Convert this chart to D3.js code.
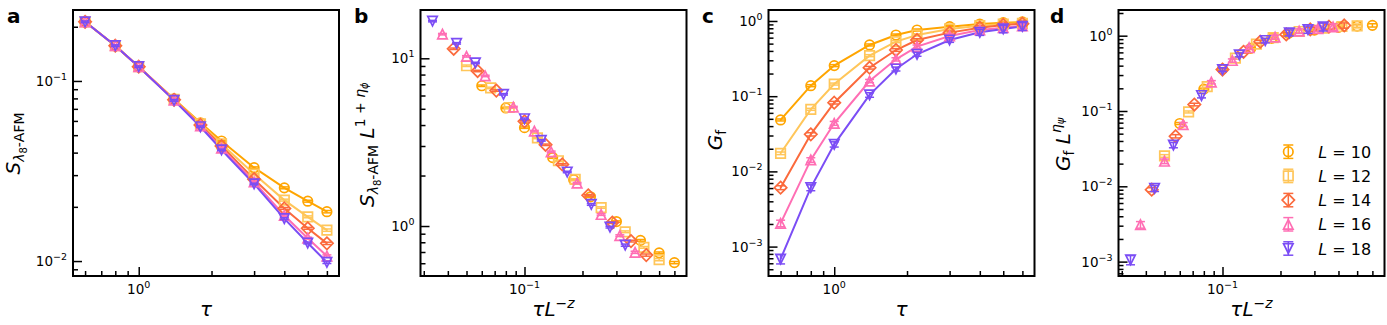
<!DOCTYPE html>
<html><head><meta charset="utf-8">
<script src="https://cdn.jsdelivr.net/npm/d3@7"></script>
<style>body{margin:0;background:#fff} svg{display:block}</style>
</head><body><svg id="fig" width="1387" height="325"></svg>
<script>
// ---------------- data ----------------
const tau = [0.6, 0.8, 1.0, 1.4, 1.8, 2.2, 3, 4, 5, 6];
const Ls = [10, 12, 14, 16, 18];
const legendLabels = ["10", "12", "14", "16", "18"];
// panel a: S_{lambda8-AFM}(tau), one row per L
const S_afm = [
  [0.213, 0.157, 0.120, 0.0795, 0.0586, 0.0464, 0.0330, 0.0255, 0.0215, 0.0188],
  [0.213, 0.157, 0.120, 0.0790, 0.0578, 0.0447, 0.0304, 0.0218, 0.0176, 0.01485],
  [0.213, 0.157, 0.120, 0.0786, 0.0570, 0.0435, 0.0285, 0.0196, 0.0152, 0.01254],
  [0.213, 0.157, 0.120, 0.0783, 0.0563, 0.0424, 0.0275, 0.0179, 0.0134, 0.01066],
  [0.213, 0.157, 0.120, 0.0780, 0.0557, 0.0414, 0.0268, 0.0172, 0.0126, 0.00984]
];
const relErrA = [0.01, 0.01, 0.01, 0.01, 0.01, 0.01, 0.01, 0.012, 0.012, 0.015];
// panels b, d: scaled abscissa tau L^{-z}
const xScaled = [
  [0.0600, 0.0800, 0.1000, 0.1400, 0.1800, 0.2200, 0.3000, 0.4000, 0.5000, 0.6000],
  [0.0500, 0.0667, 0.0833, 0.1167, 0.1500, 0.1833, 0.2500, 0.3333, 0.4167, 0.5000],
  [0.0429, 0.0571, 0.0714, 0.1000, 0.1286, 0.1571, 0.2143, 0.2857, 0.3571, 0.4286],
  [0.0375, 0.0500, 0.0625, 0.0875, 0.1125, 0.1375, 0.1875, 0.2500, 0.3125, 0.3750],
  [0.0333, 0.0444, 0.0556, 0.0778, 0.1000, 0.1222, 0.1667, 0.2222, 0.2778, 0.3333]
];
// panel b: S L^{1+eta_phi}
const S_scaled = [
  [6.86, 5.06, 3.86, 2.56, 1.887, 1.494, 1.063, 0.821, 0.692, 0.605],
  [9.03, 6.66, 5.09, 3.35, 2.45, 1.895, 1.289, 0.924, 0.746, 0.630],
  [11.40, 8.40, 6.42, 4.21, 3.05, 2.33, 1.525, 1.049, 0.813, 0.671],
  [13.93, 10.27, 7.85, 5.12, 3.68, 2.77, 1.80, 1.171, 0.876, 0.697],
  [16.66, 12.28, 9.38, 6.10, 4.36, 3.24, 2.10, 1.345, 0.985, 0.769]
];
// panel c: G_f(tau)
const Gf = [
  [0.0483, 0.138, 0.255, 0.480, 0.651, 0.759, 0.841, 0.912, 0.95, 0.97],
  [0.0174, 0.0669, 0.145, 0.346, 0.531, 0.651, 0.783, 0.866, 0.912, 0.93],
  [0.00608, 0.0311, 0.082, 0.239, 0.411, 0.559, 0.70, 0.815, 0.885, 0.92],
  [0.00204, 0.0142, 0.0436, 0.159, 0.309, 0.456, 0.632, 0.759, 0.815, 0.86],
  [0.000684, 0.00608, 0.0229, 0.104, 0.230, 0.361, 0.559, 0.707, 0.783, 0.85]
];
const relErrC = [
  [0.03, 0.03, 0.03, 0.03, 0.03, 0.03, 0.03, 0.04, 0.04, 0.05],
  [0.04, 0.03, 0.03, 0.03, 0.03, 0.03, 0.04, 0.04, 0.05, 0.06],
  [0.06, 0.05, 0.04, 0.04, 0.04, 0.04, 0.05, 0.06, 0.07, 0.08],
  [0.10, 0.07, 0.06, 0.05, 0.05, 0.05, 0.06, 0.07, 0.09, 0.10],
  [0.14, 0.09, 0.08, 0.07, 0.06, 0.06, 0.07, 0.09, 0.11, 0.12]
];
// panel d: G_f L^{eta_psi}
const G_scaled = [
  [0.0682, 0.195, 0.360, 0.678, 0.920, 1.072, 1.188, 1.289, 1.342, 1.371],
  [0.0253, 0.0971, 0.2105, 0.502, 0.771, 0.945, 1.137, 1.257, 1.324, 1.350],
  [0.00903, 0.0462, 0.1219, 0.355, 0.611, 0.831, 1.040, 1.211, 1.315, 1.367],
  [0.00309, 0.0215, 0.0661, 0.241, 0.468, 0.691, 0.958, 1.151, 1.236, 1.304],
  [0.001055, 0.00938, 0.0353, 0.1605, 0.355, 0.557, 0.863, 1.091, 1.208, 1.312]
];
const colors = ["#ffa500", "#ffc65a", "#fb6a3c", "#ff6eb4", "#7b4df5"];
const markers = ["circle", "square", "diamond", "triUp", "triDown"];

// ---------------- layout ----------------
const svg = d3.select("#fig");
const TOP = 10, PW = 266, PH = 266;
const FONT = "DejaVu Sans";
const LABSIZE = 20;

function markerPath(kind, ms) {
  const r = ms / 2;
  switch (kind) {
    case "circle": { const p = d3.path(); p.arc(0, 0, r, 0, 2 * Math.PI); p.closePath(); return p.toString(); }
    case "square": return `M${-r},${-r}H${r}V${r}H${-r}Z`;
    case "diamond": { const d = r * Math.SQRT2 * 0.92; return `M0,${-d}L${d},0L0,${d}L${-d},0Z`; }
    case "triUp": return `M0,${-r}L${r},${r}L${-r},${r}Z`;
    case "triDown": return `M0,${r}L${r},${-r}L${-r},${-r}Z`;
  }
}

function rich(sel, segs, size) {
  let prev = 0;
  segs.forEach(s => {
    const off = s.off || 0;
    sel.append("tspan")
      .attr("dy", ((off - prev) * size).toFixed(2))
      .attr("font-size", (size * (s.fs || 1)).toFixed(2))
      .attr("font-style", s.it ? "italic" : "normal")
      .text(s.t);
    prev = off;
  });
}

function decadeTicks(domain) {
  const lo = Math.log10(domain[0]), hi = Math.log10(domain[1]);
  const maj = [], min = [];
  for (let k = Math.floor(lo); k <= Math.ceil(hi); k++) {
    for (let m = 1; m <= 9; m++) {
      const v = m * Math.pow(10, k);
      const lv = Math.log10(v);
      if (lv < lo - 1e-9 || lv > hi + 1e-9) continue;
      (m === 1 ? maj : min).push(v);
    }
  }
  return {maj, min};
}

function supExp(v) {
  const e = Math.round(Math.log10(v));
  return e < 0 ? "\u2212" + (-e) : String(e);
}

function panel(cfg) {
  const g = svg.append("g").attr("transform", `translate(${cfg.left},${TOP})`);
  const x = d3.scaleLog().domain(cfg.xd).range([0, PW]);
  const y = d3.scaleLog().domain(cfg.yd).range([PH, 0]);
  const tx = decadeTicks(cfg.xd), ty = decadeTicks(cfg.yd);

  const axes = g.append("g").attr("class", "axes");
  const addAxis = (gen, tr) => {
    const a = axes.append("g").attr("transform", tr).call(gen);
    a.select(".domain").remove();
    a.selectAll("line").attr("stroke", "#000").attr("stroke-width", 1.5);
    a.selectAll("text").remove();
  };
  addAxis(d3.axisBottom(x).tickValues(tx.maj).tickSize(-9).tickFormat(""), `translate(0,${PH})`);
  addAxis(d3.axisBottom(x).tickValues(tx.min).tickSize(-5).tickFormat(""), `translate(0,${PH})`);
  addAxis(d3.axisLeft(y).tickValues(ty.maj).tickSize(-9).tickFormat(""), `translate(0,0)`);
  addAxis(d3.axisLeft(y).tickValues(ty.min).tickSize(-5).tickFormat(""), `translate(0,0)`);

  tx.maj.forEach(v => {
    const t = g.append("text").attr("x", x(v)).attr("y", PH + 18)
      .attr("text-anchor", "middle").attr("font-family", FONT).attr("font-size", 13.5).attr("fill", "#000");
    t.append("tspan").text("10");
    t.append("tspan").attr("dy", -6).attr("font-size", 9.5).text(supExp(v));
  });
  ty.maj.forEach(v => {
    const t = g.append("text").attr("x", -6).attr("y", y(v) + 5)
      .attr("text-anchor", "end").attr("font-family", FONT).attr("font-size", 13.5).attr("fill", "#000");
    t.append("tspan").text("10");
    t.append("tspan").attr("dy", -6).attr("font-size", 9.5).text(supExp(v));
  });

  const data = g.append("g");
  cfg.series.forEach((s, i) => {
    const pts = s.xs.map((xv, j) => ({x: xv, y: s.ys[j], e: s.err[j]}));
    if (cfg.lines) {
      data.append("path").datum(pts)
        .attr("d", d3.line().x(d => x(d.x)).y(d => y(d.y)))
        .attr("fill", "none").attr("stroke", colors[i]).attr("stroke-width", 2);
    }
  });
  cfg.series.forEach((s, i) => {
    const col = colors[i];
    const pts = s.xs.map((xv, j) => ({x: xv, y: s.ys[j], e: s.err[j]}));
    const grp = data.append("g").attr("stroke", col).attr("fill", "none").attr("stroke-width", 1.5);
    pts.forEach(d => {
      const cx = x(d.x), y0 = y(d.y * (1 - d.e)), y1 = y(d.y * (1 + d.e));
      grp.append("line").attr("x1", cx).attr("x2", cx).attr("y1", y0).attr("y2", y1);
      grp.append("line").attr("x1", cx - 4.5).attr("x2", cx + 4.5).attr("y1", y0).attr("y2", y0);
      grp.append("line").attr("x1", cx - 4.5).attr("x2", cx + 4.5).attr("y1", y1).attr("y2", y1);
    });
    grp.selectAll("path.m").data(pts).join("path").attr("class", "m")
      .attr("transform", d => `translate(${x(d.x)},${y(d.y)})`)
      .attr("d", markerPath(markers[i], 9.5)).attr("stroke-width", 1.7);
  });

  g.append("rect").attr("x", 0).attr("y", 0).attr("width", PW).attr("height", PH)
    .attr("fill", "none").attr("stroke", "#000").attr("stroke-width", 2);

  svg.append("text").attr("x", cfg.letterX).attr("y", 23).attr("font-family", FONT)
    .attr("font-weight", "bold").attr("font-size", 20).text(cfg.letter);

  const xl = svg.append("text").attr("x", cfg.left + PW / 2).attr("y", 316)
    .attr("text-anchor", "middle").attr("font-family", FONT).attr("fill", "#000");
  rich(xl, cfg.xlab, LABSIZE);
  const yl = svg.append("text")
    .attr("transform", `translate(${cfg.ylx},${cfg.yly}) rotate(-90)`)
    .attr("text-anchor", cfg.ylAnchor || "middle").attr("font-family", FONT).attr("fill", "#000");
  rich(yl, cfg.ylab, LABSIZE);
  return {g, x, y};
}

const tauLab = [{t: "\u03c4", it: 1}];
const tauLzLab = [{t: "\u03c4", it: 1}, {t: "L", it: 1}, {t: "\u2212", fs: 0.7, off: -0.42}, {t: "z", it: 1, fs: 0.7, off: -0.42}];
const sLab = [{t: "S", it: 1}, {t: "\u03bb", it: 1, fs: 0.7, off: 0.22}, {t: "8", fs: 0.5, off: 0.34}, {t: "-AFM", fs: 0.7, off: 0.22}];
const sLLab = sLab.concat([{t: " "}, {t: "L", it: 1}, {t: "1 + ", fs: 0.7, off: -0.45}, {t: "\u03b7", it: 1, fs: 0.7, off: -0.45}, {t: "\u03d5", it: 1, fs: 0.5, off: -0.3}]);
const gLab = [{t: "G", it: 1}, {t: "f", fs: 0.7, off: 0.22}];
const gLLab = gLab.concat([{t: " "}, {t: "L", it: 1}, {t: "\u03b7", it: 1, fs: 0.7, off: -0.45}, {t: "\u03c8", it: 1, fs: 0.5, off: -0.3}]);

const xdTau = [Math.pow(10, -0.2718), Math.pow(10, 0.8282)];
const xdScaled = [Math.pow(10, -1.5399), Math.pow(10, -0.159)];

const seriesOf = (xsFn, ys, errFn) => Ls.map((L, i) => ({xs: xsFn(i), ys: ys[i], err: errFn(i)}));

panel({left: 73, letter: "a", letterX: 7, xd: xdTau, yd: [Math.pow(10, -2.083), Math.pow(10, -0.606)],
  lines: true, series: seriesOf(() => tau, S_afm, () => relErrA),
  xlab: tauLab, ylab: sLab, ylx: 20, yly: 143.5});
panel({left: 420.5, letter: "b", letterX: 354, xd: xdScaled, yd: [Math.pow(10, -0.298), Math.pow(10, 1.288)],
  lines: false, series: seriesOf(i => xScaled[i], S_scaled, () => relErrA),
  xlab: tauLzLab, ylab: sLLab, ylx: 374, yly: 207, ylAnchor: "start"});
panel({left: 768.5, letter: "c", letterX: 702, xd: xdTau, yd: [Math.pow(10, -3.391), Math.pow(10, 0.146)],
  lines: true, series: seriesOf(() => tau, Gf, i => relErrC[i]),
  xlab: tauLab, ylab: gLab, ylx: 722, yly: 140});
panel({left: 1118.5, letter: "d", letterX: 1050, xd: xdScaled, yd: [Math.pow(10, -3.191), Math.pow(10, 0.341)],
  lines: false, series: seriesOf(i => xScaled[i], G_scaled, i => relErrC[i]),
  xlab: tauLzLab, ylab: gLLab, ylx: 1070, yly: 171, ylAnchor: "start"});

// legend in panel d
const leg = svg.append("g");
legendLabels.forEach((lab, i) => {
  const cy = 151.7 + i * 24.2, cx = 1288.3;
  const g = leg.append("g").attr("stroke", colors[i]).attr("fill", "none").attr("stroke-width", 1.5);
  g.append("line").attr("x1", cx).attr("x2", cx).attr("y1", cy - 6.7).attr("y2", cy + 6.7);
  g.append("line").attr("x1", cx - 5).attr("x2", cx + 5).attr("y1", cy - 6.7).attr("y2", cy - 6.7);
  g.append("line").attr("x1", cx - 5).attr("x2", cx + 5).attr("y1", cy + 6.7).attr("y2", cy + 6.7);
  g.append("path").attr("transform", `translate(${cx},${cy})`).attr("d", markerPath(markers[i], 9.5)).attr("stroke-width", 1.7);
  const t = leg.append("text").attr("x", 1318.3).attr("y", cy + 6).attr("font-family", FONT).attr("font-size", 16);
  t.append("tspan").attr("font-style", "italic").text("L");
  t.append("tspan").text(" = " + lab);
});
</script></body></html>
